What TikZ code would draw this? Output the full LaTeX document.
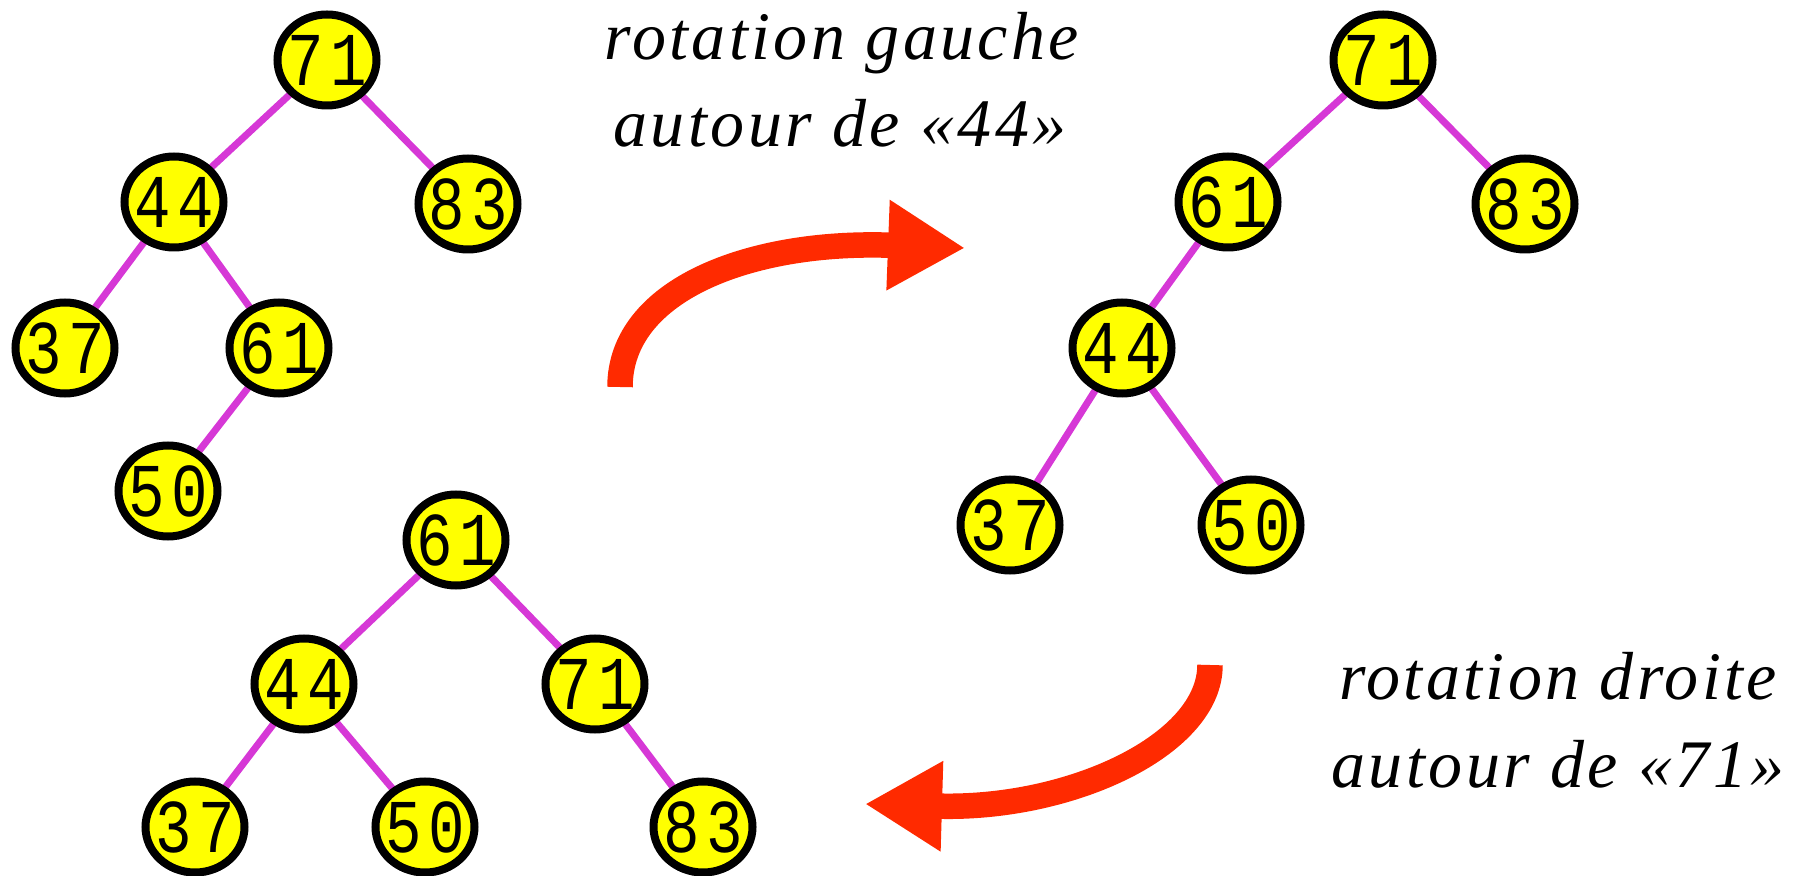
\documentclass[tikz,border=0pt]{standalone}
\usepackage{graphicx}
\usepackage{fontspec}
\setmainfont{Liberation Serif}
\newfontfamily\keyfont{Liberation Mono}
\newfontfamily\captionfont[LetterSpace=5]{Liberation Serif}
\usetikzlibrary{shapes.geometric,arrows.meta,backgrounds}

\definecolor{keyyellow}{RGB}{255,255,0}
\definecolor{linkmagenta}{RGB}{214,56,214}
\definecolor{turnred}{RGB}{255,42,0}

% one narrow digit in a fixed-width cell
\newcommand\digitcell[1]{\makebox[21.5pt]{\scalebox{0.8}[1]{#1}}}
% two-digit key centred on the node centre without widening the ellipse
\newcommand\kv[2]{\makebox[0pt]{\raisebox{-.5\height}{\digitcell{#1}\digitcell{#2}}}}

\tikzset{
  key/.style={ellipse, draw=black, line width=4pt, fill=keyyellow,
    minimum width=49.5pt, minimum height=45.5pt, inner sep=0pt,
    font=\keyfont\fontsize{38pt}{38pt}\selectfont},
  link/.style={draw=linkmagenta, line width=3.5pt},
  turn/.style={draw=turnred, line width=12.75pt,
    -{Triangle[length=38.5pt,width=42.5pt]}},
  caption/.style={anchor=base, inner sep=0pt,
    font=\captionfont\itshape\fontsize{34pt}{40pt}\selectfont},
}

\begin{document}
\begin{tikzpicture}[x=0.5pt,y=-0.5pt]
\useasboundingbox (0,0) rectangle (1800,876);

% tree before the left rotation
\node[key] (a71) at (327,60)  {\kv{7}{1}};
\node[key] (a44) at (174,202) {\kv{4}{4}};
\node[key] (a83) at (468,204) {\kv{8}{3}};
\node[key] (a37) at (65,348)  {\kv{3}{7}};
\node[key] (a61) at (279,348) {\kv{6}{1}};
\node[key] (a50) at (168,491) {\kv{5}{0}};

% tree after the left rotation around 44
\node[key] (b71) at (1383,60)  {\kv{7}{1}};
\node[key] (b61) at (1228,202) {\kv{6}{1}};
\node[key] (b83) at (1525,204) {\kv{8}{3}};
\node[key] (b44) at (1122,348) {\kv{4}{4}};
\node[key] (b37) at (1010,525) {\kv{3}{7}};
\node[key] (b50) at (1251,525) {\kv{5}{0}};

% tree after the right rotation around 71
\node[key] (c61) at (456,540) {\kv{6}{1}};
\node[key] (c44) at (304,684) {\kv{4}{4}};
\node[key] (c71) at (595,684) {\kv{7}{1}};
\node[key] (c37) at (195,827) {\kv{3}{7}};
\node[key] (c50) at (425,827) {\kv{5}{0}};
\node[key] (c83) at (703,827) {\kv{8}{3}};

\begin{pgfonlayer}{background}
  \path[link] (a71.center) -- (a44.center) (a71.center) -- (a83.center)
              (a44.center) -- (a37.center) (a44.center) -- (a61.center)
              (a61.center) -- (a50.center);
  \path[link] (b71.center) -- (b61.center) (b71.center) -- (b83.center)
              (b61.center) -- (b44.center) (b44.center) -- (b37.center)
              (b44.center) -- (b50.center);
  \path[link] (c61.center) -- (c44.center) (c61.center) -- (c71.center)
              (c44.center) -- (c37.center) (c44.center) -- (c50.center)
              (c71.center) -- (c83.center);
\end{pgfonlayer}

% rotation arrows
\coordinate (g0) at (620,387);
\coordinate (g1) at (965,248);
\draw[turn] (g0) .. controls (620,290) and (750,240) .. (g1);

\coordinate (d0) at (1210,665);
\coordinate (d1) at (865,804);
\draw[turn] (d0) .. controls (1210,745) and (1070,810) .. (d1);

% captions
\node[caption] (gaucheA) at (842,60)  {rotation gauche};
\node[caption] (gaucheB) at (840,147) {autour de «44»};
\node[caption] (droiteA) at (1558,700) {rotation droite};
\node[caption] (droiteB) at (1558,787) {autour de «71»};
\end{tikzpicture}
\end{document}
